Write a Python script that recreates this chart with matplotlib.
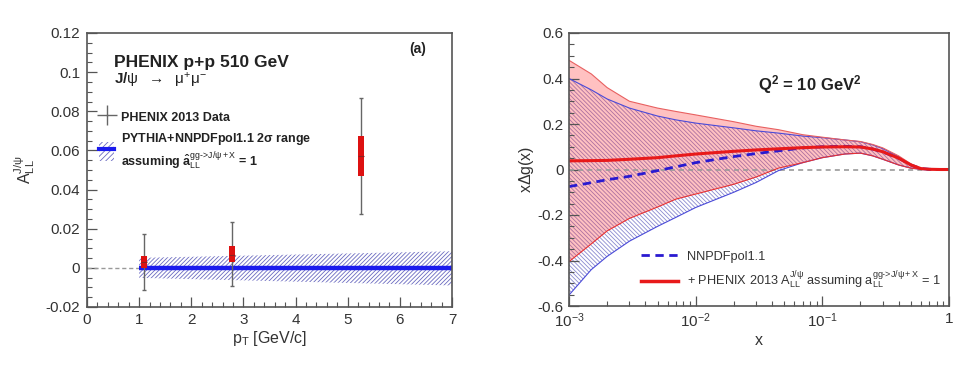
import matplotlib
matplotlib.use("Agg")
import matplotlib.pyplot as plt
from matplotlib.ticker import AutoMinorLocator, FixedLocator, FixedFormatter, LogLocator, NullFormatter
from matplotlib.lines import Line2D
from matplotlib.patches import Patch

plt.rcParams['font.family'] = ['Liberation Sans', 'DejaVu Sans']
plt.rcParams['mathtext.fontset'] = 'custom'
plt.rcParams['mathtext.rm'] = 'Liberation Sans'
plt.rcParams['mathtext.it'] = 'Liberation Sans:italic'
plt.rcParams['mathtext.bf'] = 'Liberation Sans:bold'
plt.rcParams['hatch.linewidth'] = 0.6

# left panel: PHENIX J/psi A_LL data
pt = [1.1, 2.78, 5.25]
all_val = [0.003, 0.0068, 0.057]
stat_lo = [-0.0114, -0.0094, 0.0275]
stat_hi = [0.0171, 0.0234, 0.087]
sys_lo = [-0.0003, 0.003, 0.047]
sys_hi = [0.0059, 0.011, 0.0674]

# PYTHIA+NNPDFpol1.1 band
pt_band = [1.0, 7.0]
band_lo = [-0.0051, -0.009]
band_hi = [0.0051, 0.0085]
band_mid = [0.0, 0.0]

# right panel: x*Delta g(x) at Q^2 = 10 GeV^2
x_nodes = [1e-3, 1.5e-3, 2e-3, 3e-3, 5e-3, 7e-3, 1e-2, 2e-2, 3e-2, 4.5e-2, 7e-2,
           0.1, 0.15, 0.2, 0.25, 0.3, 0.4, 0.5, 0.6, 0.7, 0.85, 1.0]
red_hi = [0.48, 0.42, 0.36, 0.30, 0.27, 0.255, 0.24, 0.21, 0.19, 0.175, 0.153,
          0.142, 0.13, 0.123, 0.11, 0.095, 0.06, 0.025, 0.005, 0.001, 0.0, 0.0]
red_lo = [-0.405, -0.327, -0.27, -0.215, -0.165, -0.13, -0.108, -0.065, -0.033, 0.006, 0.03,
          0.052, 0.068, 0.072, 0.06, 0.045, 0.02, 0.006, 0.001, 0.0, 0.0, 0.0]
blue_hi = [0.40, 0.35, 0.31, 0.27, 0.235, 0.218, 0.204, 0.183, 0.17, 0.16, 0.147,
           0.14, 0.13, 0.122, 0.108, 0.092, 0.056, 0.022, 0.004, 0.001, 0.0, 0.0]
blue_lo = [-0.552, -0.44, -0.382, -0.315, -0.25, -0.21, -0.167, -0.1, -0.057, -0.005, 0.03,
           0.052, 0.068, 0.072, 0.06, 0.045, 0.02, 0.006, 0.001, 0.0, 0.0, 0.0]
red_mid = [0.038, 0.039, 0.04, 0.045, 0.052, 0.06, 0.068, 0.08, 0.086, 0.091, 0.096,
           0.099, 0.1, 0.099, 0.09, 0.078, 0.05, 0.02, 0.004, 0.001, 0.0, 0.0]
blue_mid = [-0.075, -0.058, -0.045, -0.03, -0.005, 0.012, 0.03, 0.057, 0.07, 0.082, 0.095,
            0.1, 0.102, 0.1, 0.09, 0.077, 0.05, 0.02, 0.004, 0.001, 0.0, 0.0]

x_ticks = [1e-3, 1e-2, 1e-1, 1.0]
x_ticklabels = [r"$10^{-3}$", r"$10^{-2}$", r"$10^{-1}$", "1"]

fig = plt.figure(figsize=(9.74, 3.69), dpi=100)
ax1 = fig.add_axes([87 / 974, 62 / 369, 365 / 974, 274 / 369])
ax2 = fig.add_axes([569 / 974, 63 / 369, 380 / 974, 273 / 369])

frame_col = "#555555"
for ax in (ax1, ax2):
    for s in ax.spines.values():
        s.set_color(frame_col)
        s.set_linewidth(1.2)
    ax.tick_params(which="both", direction="in", top=False, right=False,
                   colors=frame_col, labelcolor="#333333", labelsize=11)
    ax.tick_params(which="major", length=7, width=0.9)
    ax.tick_params(which="minor", length=3.5, width=0.8)

# ---- left panel ----
ax1.plot([0, 1], [0, 0], ls=(0, (3, 2)), color="#999999", lw=1)
ax1.fill_between(pt_band, band_lo, band_hi, facecolor="none", edgecolor="#6a6ac0",
                 hatch="////////", lw=0)
ax1.plot(pt_band, band_mid, color="#1a1aee", lw=3.2, solid_capstyle="butt")
ax1.vlines(pt, stat_lo, stat_hi, color="#666666", lw=1)
ax1.hlines(stat_lo + stat_hi, [p - 0.04 for p in pt] * 2, [p + 0.04 for p in pt] * 2,
           color="#666666", lw=1)
ax1.bar(pt, [h - l for h, l in zip(sys_hi, sys_lo)], bottom=sys_lo, width=0.12,
        color="#dd1111", zorder=3)
ax1.hlines(all_val, [p - 0.06 for p in pt], [p + 0.06 for p in pt], color="#882222",
           lw=0.8, zorder=4)

ax1.set_xlim(0, 7)
ax1.set_ylim(-0.02, 0.12)
ax1.set_yticks([-0.02, 0, 0.02, 0.04, 0.06, 0.08, 0.1, 0.12])
ax1.set_yticklabels(["-0.02", "0", "0.02", "0.04", "0.06", "0.08", "0.1", "0.12"])
ax1.xaxis.set_minor_locator(AutoMinorLocator(5))
ax1.yaxis.set_minor_locator(AutoMinorLocator(4))
ax1.tick_params(axis="y", pad=5)
ax1.tick_params(axis="x", pad=4)
ax1.set_xlabel(r"p$_{\rm T}$ [GeV/c]", fontsize=11.5, color="#333333", labelpad=2)
ax1.set_ylabel(r"A$_{\rm LL}^{\rm J/\psi}$", fontsize=11.5, color="#333333", labelpad=6)

ax1.text(0.074, 0.894, "PHENIX p+p 510 GeV", transform=ax1.transAxes,
         fontsize=12.5, fontweight="bold", va="center", color="#222222")
ax1.text(0.074, 0.828, r"J/$\mathrm{\psi}$  $\rightarrow$  $\mathrm{\mu^{+}\mu^{-}}$",
         transform=ax1.transAxes, fontsize=11, fontweight="bold", va="center",
         color="#222222")
ax1.text(0.907, 0.942, "(a)", transform=ax1.transAxes, fontsize=10,
         fontweight="bold", va="center", ha="center", color="#222222")

h_data = Line2D([], [], ls="none", marker="+", markersize=14, mew=1, color="#666666")
h_band = (Patch(facecolor="white", edgecolor="#6a6ac0", hatch="//////", lw=0),
          Line2D([], [], color="#1a1aee", lw=3))
leg1 = ax1.legend([h_data, h_band],
                  ["PHENIX 2013 Data",
                   "PYTHIA+NNPDFpol1.1 2$\\mathbf{\\sigma}$ range\n"
                   "assuming $\\mathbf{\\hat{a}}_{\\rm LL}^{\\rm gg\\text{->}J/\\psi+X}$ = 1"],
                  loc="upper left", bbox_to_anchor=(0.02, 0.745), frameon=False,
                  prop={"size": 9, "weight": "bold"}, handlelength=1.2,
                  handleheight=2.0, handletextpad=0.5, labelspacing=0.3,
                  borderaxespad=0)
for t in leg1.get_texts():
    t.set_color("#222222")

# ---- right panel ----
ax2.plot(x_nodes, [0] * len(x_nodes), ls=(0, (3, 2.5)), color="#999999", lw=1.2)
ax2.fill_between(x_nodes, blue_lo, blue_hi, facecolor="none", edgecolor="#8a8ad0",
                 hatch="\\\\\\\\\\\\\\\\", lw=0)
ax2.plot(x_nodes, blue_lo, color="#4a4ad8", lw=0.8)
ax2.plot(x_nodes, blue_hi, color="#4a4ad8", lw=0.8)
ax2.plot(x_nodes, blue_mid, color="#2a1ad0", lw=2, ls=(0, (3, 2)))
ax2.fill_between(x_nodes, red_lo, red_hi, facecolor=(1, 0.2, 0.2, 0.3),
                 edgecolor="none", lw=0)
ax2.plot(x_nodes, red_lo, color="#e83030", lw=0.8)
ax2.plot(x_nodes, red_hi, color="#e86060", lw=0.8)
ax2.plot(x_nodes, red_mid, color="#e8191a", lw=2.2)

ax2.set_xscale("log")
ax2.set_xlim(1e-3, 1)
ax2.set_ylim(-0.6, 0.6)
ax2.xaxis.set_major_locator(FixedLocator(x_ticks))
ax2.xaxis.set_major_formatter(FixedFormatter(x_ticklabels))
ax2.xaxis.set_minor_locator(LogLocator(base=10, subs=range(2, 10)))
ax2.xaxis.set_minor_formatter(NullFormatter())
ax2.set_yticks([-0.6, -0.4, -0.2, 0, 0.2, 0.4, 0.6])
ax2.set_yticklabels(["-0.6", "-0.4", "-0.2", "0", "0.2", "0.4", "0.6"])
ax2.yaxis.set_minor_locator(AutoMinorLocator(4))
ax2.tick_params(axis="y", pad=4)
ax2.tick_params(axis="x", pad=4)
ax2.set_xlabel("x", fontsize=11.5, color="#333333", labelpad=2)
ax2.set_ylabel(r"x$\Delta$g(x)", fontsize=11.5, color="#333333", labelpad=1)

ax2.text(0.634, 0.81, r"Q$^{\mathbf{2}}$ = 10 GeV$^{\mathbf{2}}$", transform=ax2.transAxes,
         fontsize=12, fontweight="bold", ha="center", va="center", color="#222222")

h_nn = Line2D([], [], color="#2a1ad0", lw=2, ls=(0, (3, 2)))
h_ph = Line2D([], [], color="#e8191a", lw=2.5)
leg2 = ax2.legend([h_nn, h_ph],
                  ["NNPDFpol1.1",
                   r"+ PHENIX 2013 A$_{\rm LL}^{\rm J/\psi}$ assuming a$_{\rm LL}^{\rm gg\text{->}J/\psi+X}$ = 1"],
                  loc="lower left", bbox_to_anchor=(0.175, 0.035), frameon=False,
                  fontsize=9.2, handlelength=2.9, handletextpad=0.7, labelspacing=0.55,
                  borderaxespad=0)
for t in leg2.get_texts():
    t.set_color("#333333")

fig.savefig("out.png", dpi=100)
